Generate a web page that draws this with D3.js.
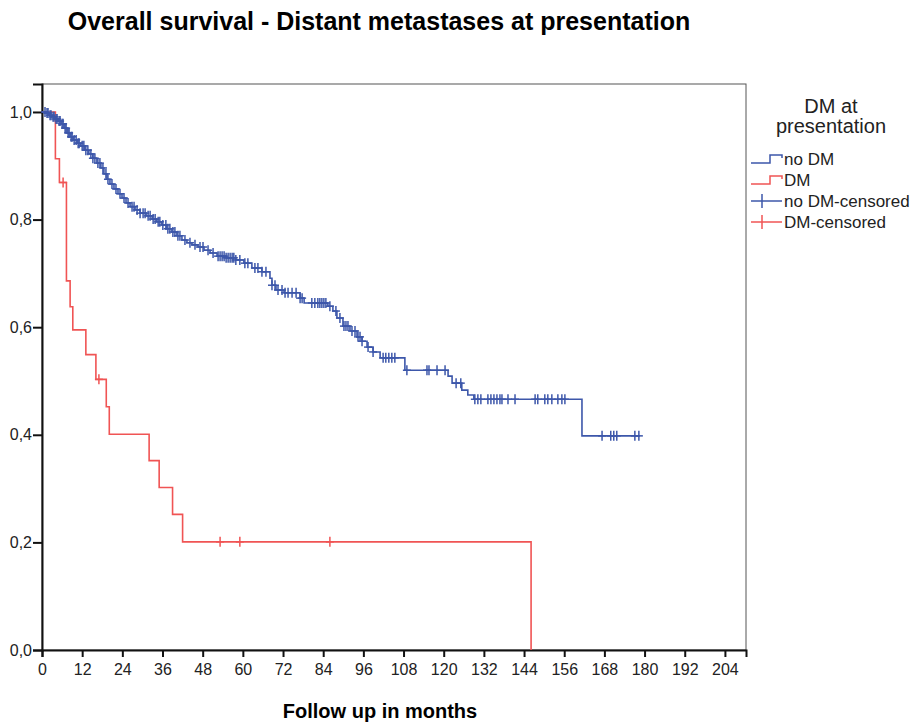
<!DOCTYPE html>
<html>
<head>
<meta charset="utf-8">
<script src="https://cdn.jsdelivr.net/npm/d3@7"></script>
<style>
  body { margin: 0; background: #fff; }
  svg { font-family: "Liberation Sans", Arial, sans-serif; }
</style>
</head>
<body>
<svg id="km-chart"></svg>
<script>
// ticks
const xTicks = [0, 12, 24, 36, 48, 60, 72, 84, 96, 108, 120, 132, 144, 156, 168, 180, 192, 204];
const yTicks = [0, 0.2, 0.4, 0.6, 0.8, 1.0];

// no DM group: step times (months) and survival after each step
const noDmTimes = [1.2, 2.1, 3.0, 3.9, 4.8, 5.7, 6.6, 7.5, 8.4, 9.3, 10.5, 11.6, 12.8, 14.0, 15.2, 16.4, 17.6, 18.5, 19.4, 20.3,
  21.5, 22.7, 23.9, 25.1, 26.3, 27.8, 29.3, 31.1, 32.9, 34.3, 35.8, 37.3, 38.8, 40.3, 41.8, 43.3, 44.8, 46.6, 48.4, 50.2,
  52.3, 55.0, 57.9, 60.3, 62.7, 65.7, 68.1, 68.7, 69.9, 72.3, 77.1, 78.3, 85.4, 86.9, 88.1, 89.9, 92.0, 94.1, 95.6, 97.1,
  98.9, 101.0, 108.4, 121.3, 122.5, 125.4, 127.2, 129.0, 161.3];
const noDmSurv = [0.998, 0.994, 0.991, 0.987, 0.983, 0.978, 0.970, 0.961, 0.954, 0.948, 0.942, 0.937, 0.929, 0.922, 0.914, 0.905, 0.896, 0.885, 0.875, 0.866,
  0.857, 0.848, 0.840, 0.831, 0.824, 0.818, 0.812, 0.807, 0.801, 0.796, 0.790, 0.783, 0.777, 0.770, 0.762, 0.757, 0.753, 0.749, 0.743, 0.738,
  0.732, 0.729, 0.725, 0.719, 0.710, 0.703, 0.691, 0.678, 0.669, 0.664, 0.654, 0.645, 0.639, 0.630, 0.617, 0.602, 0.593, 0.582, 0.574, 0.563,
  0.554, 0.543, 0.520, 0.509, 0.496, 0.483, 0.474, 0.466, 0.398];
const noDmEnd = 178.6;
const noDmCensored = [0.9, 1.5, 1.8, 2.4, 2.7, 3.3, 3.6, 4.2, 4.5, 5.1, 5.4, 6.0, 6.3, 6.9, 7.2, 7.8, 8.1, 8.7, 9.0, 9.6,
  10.2, 10.8, 11.1, 12.0, 12.5, 13.1, 13.7, 14.6, 15.2, 15.8, 16.7, 17.3, 18.2, 19.1, 19.7, 20.9, 22.1, 23.3, 24.5, 25.7,
  26.9, 27.5, 28.4, 29.3, 30.2, 30.8, 31.7, 32.3, 33.2, 33.8, 34.7, 35.2, 36.1, 37.0, 37.6, 38.2, 39.1, 39.7, 40.6, 41.2,
  42.7, 44.2, 45.7, 47.2, 48.1, 49.6, 51.1, 52.6, 53.2, 53.8, 54.4, 55.0, 55.6, 56.2, 56.8, 57.3, 57.9, 59.1, 60.6, 61.5,
  63.6, 64.5, 65.7, 66.9, 68.7, 69.6, 70.5, 71.7, 72.6, 73.5, 74.7, 75.9, 77.1, 77.7, 80.6, 81.5, 82.4, 83.0, 83.6, 84.2,
  84.8, 86.0, 87.8, 89.0, 90.2, 90.8, 91.4, 92.6, 93.5, 94.4, 95.0, 95.6, 97.4, 98.9, 101.9, 102.7, 103.6, 104.5, 105.4, 109.0,
  115.0, 115.6, 118.0, 120.4, 123.7, 125.1, 129.3, 130.2, 131.1, 133.2, 134.1, 135.0, 135.9, 136.8, 137.4, 139.2, 141.3, 147.3, 148.1, 150.2,
  151.1, 152.3, 154.1, 155.3, 156.2, 167.3, 169.9, 170.8, 171.7, 177.1, 178.3];

// DM group
const dmTimes = [4.0, 5.2, 7.3, 8.4, 9.2, 13.1, 16.1, 19.2, 20.1, 32.0, 35.0, 39.0, 42.0, 146.1];
const dmSurv = [0.913, 0.869, 0.686, 0.638, 0.595, 0.549, 0.503, 0.452, 0.401, 0.352, 0.302, 0.252, 0.201, 0.0];
const dmEnd = 146.1;
const dmCensored = [6.3, 17.0, 53.2, 59.1, 86.0];

const blue = '#3d57aa';
const red = '#f05454';

const width = 918;
const height = 723;
const margin = { top: 84, right: 172, bottom: 73, left: 42 };

const svg = d3.select('#km-chart')
  .attr('width', width)
  .attr('height', height);

const x = d3.scaleLinear()
  .domain([0, 210.3])
  .range([margin.left, width - margin.right]);

const y = d3.scaleLinear()
  .domain([0, 1.052])
  .range([height - margin.bottom, margin.top]);

// frame (top + right)
svg.append('rect')
  .attr('x', x(0))
  .attr('y', y(1.052))
  .attr('width', x(210.3) - x(0))
  .attr('height', y(0) - y(1.052))
  .attr('fill', 'none')
  .attr('stroke', '#555')
  .attr('stroke-width', 1);

// axes
const xAxis = svg.append('g')
  .attr('transform', `translate(0,${y(0)})`)
  .call(d3.axisBottom(x).tickValues(xTicks).tickFormat(d3.format('d')).tickSizeOuter(0).tickSize(7).tickPadding(7));

const yAxis = svg.append('g')
  .attr('transform', `translate(${x(0)},0)`)
  .call(d3.axisLeft(y).tickValues(yTicks).tickFormat(d => d.toFixed(1).replace('.', ',')).tickSizeOuter(0).tickSize(9).tickPadding(1));

[xAxis, yAxis].forEach(g => {
  g.select('.domain').attr('stroke', '#111').attr('stroke-width', 2);
  g.selectAll('.tick line').attr('stroke', '#111').attr('stroke-width', 2);
  g.selectAll('.tick text')
    .attr('fill', '#222')
    .style('font-family', '"Liberation Sans", Arial, sans-serif')
    .style('font-size', '16px');
});

// step curves
const line = d3.line()
  .x(d => x(d[0]))
  .y(d => y(d[1]))
  .curve(d3.curveStepAfter);

function stepPoints(times, surv, end) {
  const pts = [[0, 1]];
  times.forEach((t, i) => pts.push([t, surv[i]]));
  const last = pts[pts.length - 1];
  if (end > last[0]) pts.push([end, last[1]]);
  return pts;
}

function survAt(times, surv, t) {
  const i = d3.bisectRight(times, t);
  return i === 0 ? 1 : surv[i - 1];
}

const groups = [
  { times: dmTimes, surv: dmSurv, end: dmEnd, cens: dmCensored, color: red },
  { times: noDmTimes, surv: noDmSurv, end: noDmEnd, cens: noDmCensored, color: blue }
];

groups.forEach(g => {
  svg.append('path')
    .datum(stepPoints(g.times, g.surv, g.end))
    .attr('d', line)
    .attr('fill', 'none')
    .attr('stroke', g.color)
    .attr('stroke-width', 1.6);

  // censored marks
  const marks = svg.append('g');
  g.cens.forEach(t => {
    const cx = x(t), cy = y(survAt(g.times, g.surv, t));
    marks.append('line')
      .attr('x1', cx).attr('x2', cx)
      .attr('y1', cy - 5).attr('y2', cy + 5)
      .attr('stroke', g.color).attr('stroke-width', 1.5);
    marks.append('line')
      .attr('x1', cx - 4).attr('x2', cx + 4)
      .attr('y1', cy).attr('y2', cy)
      .attr('stroke', g.color).attr('stroke-width', 1.5);
  });
});

// title + axis label
svg.append('text')
  .attr('x', 379)
  .attr('y', 30)
  .attr('text-anchor', 'middle')
  .style('font-size', '25px')
  .style('font-weight', 'bold')
  .text('Overall survival - Distant metastases at presentation');

svg.append('text')
  .attr('x', 380)
  .attr('y', 718)
  .attr('text-anchor', 'middle')
  .style('font-size', '20px')
  .style('font-weight', 'bold')
  .text('Follow up in months');

// legend
const legend = svg.append('g');
legend.append('text')
  .attr('x', 831).attr('y', 113)
  .attr('text-anchor', 'middle')
  .style('font-size', '20px')
  .attr('fill', '#222')
  .text('DM at');
legend.append('text')
  .attr('x', 831).attr('y', 133)
  .attr('text-anchor', 'middle')
  .style('font-size', '20px')
  .attr('fill', '#222')
  .text('presentation');

const legendItems = [
  { label: 'no DM', color: blue, type: 'step' },
  { label: 'DM', color: red, type: 'step' },
  { label: 'no DM-censored', color: blue, type: 'cens' },
  { label: 'DM-censored', color: red, type: 'cens' }
];

legendItems.forEach((d, i) => {
  const cy = 159 + i * 21;
  if (d.type === 'step') {
    legend.append('path')
      .attr('d', `M751,${cy + 4}H770V${cy - 4}H782V${cy - 1}`)
      .attr('fill', 'none')
      .attr('stroke', d.color)
      .attr('stroke-width', 1.5);
  } else {
    legend.append('line')
      .attr('x1', 751).attr('x2', 782).attr('y1', cy).attr('y2', cy)
      .attr('stroke', d.color).attr('stroke-width', 1.5);
    legend.append('line')
      .attr('x1', 762).attr('x2', 762).attr('y1', cy - 7).attr('y2', cy + 7)
      .attr('stroke', d.color).attr('stroke-width', 1.5);
  }
  legend.append('text')
    .attr('x', 784)
    .attr('y', cy + 6)
    .style('font-size', '17px')
    .attr('fill', '#222')
    .text(d.label);
});
</script>
</body>
</html>
